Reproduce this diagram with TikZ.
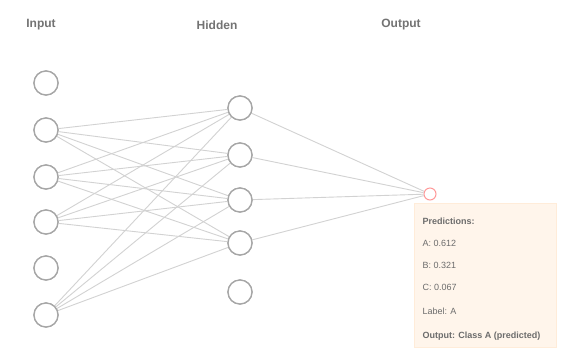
\documentclass[tikz,border=0pt]{standalone}
\usepackage{fontspec}
\setmainfont{Liberation Sans}
\begin{document}
\begin{tikzpicture}[x=1pt,y=-1pt,
  neuron/.style={circle,draw=gray!70,line width=1.3pt,fill=white,minimum size=24pt,inner sep=0pt},
  link/.style={draw=gray!35,line width=0.9pt},
  title/.style={text=gray!90!black,font=\large\bfseries},
  outdot/.style={circle,draw=red!40,line width=1pt,minimum size=12pt,inner sep=0pt},
  resbox/.style={fill=orange!8,draw=orange!15,line width=0.6pt,minimum width=142pt,minimum height=144pt,inner sep=0pt},
  restext/.style={font=\small,text=gray!85!black,anchor=west}]
\useasboundingbox (0,0) rectangle (567,360);
\fill[white] (0,0) rectangle (567,360);
\node[title] (t1) at (41,25) {Input};
\node[title] (t2) at (217,25) {Hidden};
\node[title] (t3) at (401,25) {Output};
\foreach \i/\y in {1/83,2/130,3/177,4/222,5/268,6/315}
  \node[neuron] (i\i) at (46,\y) {};
\foreach \j/\y in {1/108,2/155,3/200,4/243,5/292}
  \node[neuron] (h\j) at (240,\y) {};
\node[outdot] (o) at (430,194) {};
\foreach \i in {2,3,4,6}
  \foreach \j in {1,2,3,4}
    \draw[link] (i\i) -- (h\j);
\foreach \j in {1,2,3,4}
  \draw[link] (h\j) -- (o);
\foreach \i in {1,...,6} \node[neuron] at (i\i) {};
\foreach \j in {1,...,5} \node[neuron] at (h\j) {};
\node[resbox,anchor=north west] (box) at (414,203) {};
\node[restext,font=\small\bfseries] (r1) at (419,221) {Predictions:};
\node[restext] (r2) at (419,243) {A: 0.612};
\node[restext] (r3) at (419,265) {B: 0.321};
\node[restext] (r4) at (419,287) {C: 0.067};
\node[restext] (r5) at (419,311) {Label: A};
\node[restext,font=\small\bfseries] (r6) at (419,336) {Output: Class A (predicted)};
\end{tikzpicture}
\end{document}
